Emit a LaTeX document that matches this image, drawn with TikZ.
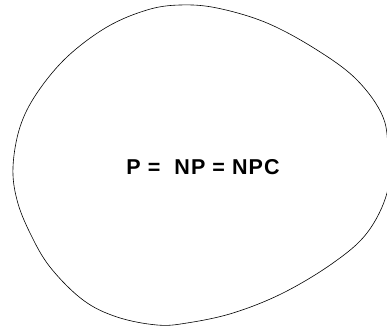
\documentclass[tikz,border=0pt]{standalone}
\usepackage{fontspec}
\setmainfont{Liberation Sans}
\newfontfamily\lblfont[LetterSpace=5]{Liberation Sans}
\begin{document}
\begin{tikzpicture}[x=1pt,y=-1pt,
  blob/.style={draw=black,line width=0.6pt},
  lbl/.style={font=\lblfont\fontsize{21.5}{24}\selectfont\bfseries,inner sep=0pt}]
\useasboundingbox (0,0) rectangle (387,328);
\draw[blob] plot[smooth cycle,tension=0.6] coordinates {
 (180,5) (217,8) (267,23) (317,50) (357,80) (383,117) (388,155) (387,193)
 (367,233) (333,263) (283,293) (233,313) (187,323) (157,325) (117,317)
 (83,300) (50,267) (30,233) (17,200) (13,167) (20,127) (37,93) (67,57)
 (107,27) (147,10)};
\node[lbl] (t) at (203,167.5) {P =\ \ NP = NPC};
\end{tikzpicture}
\end{document}
